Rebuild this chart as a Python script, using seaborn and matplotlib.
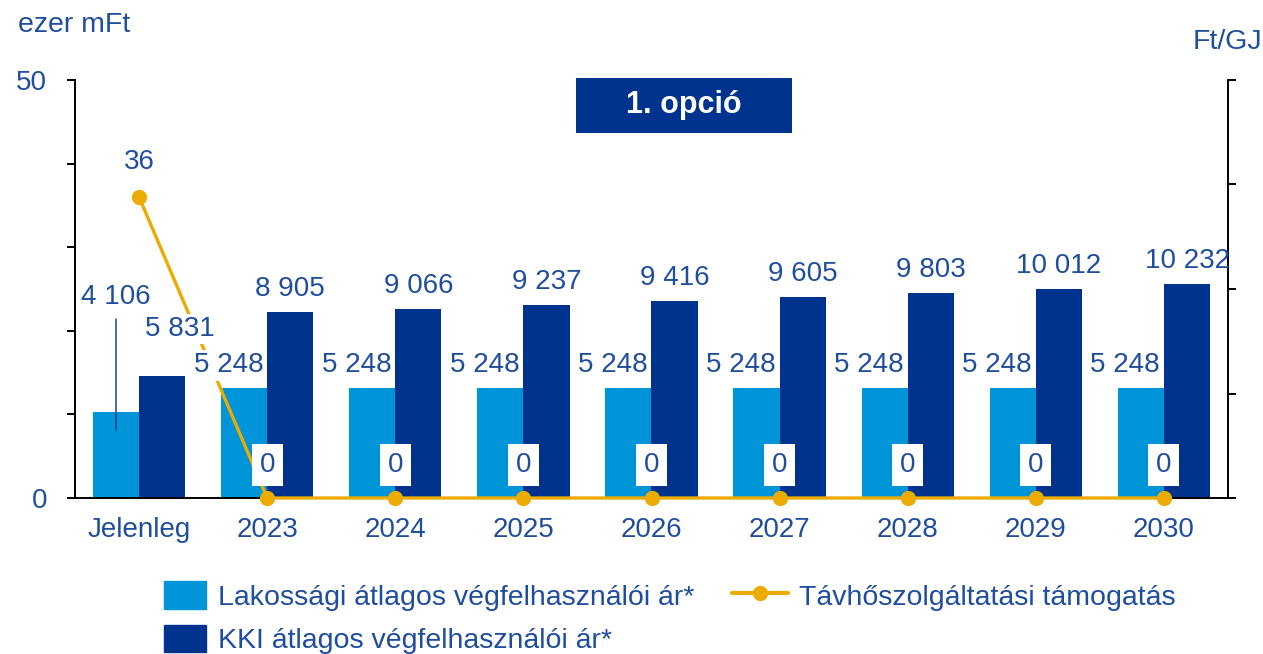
import numpy as np
import pandas as pd
import matplotlib
matplotlib.use('Agg')
import matplotlib.pyplot as plt
import seaborn as sns
from matplotlib.patches import Patch, Rectangle
from matplotlib.lines import Line2D

# ---- data ----
categories = ['Jelenleg', '2023', '2024', '2025', '2026', '2027', '2028', '2029', '2030']
lakossagi = [4106, 5248, 5248, 5248, 5248, 5248, 5248, 5248, 5248]
kki = [5831, 8905, 9066, 9237, 9416, 9605, 9803, 10012, 10232]
tamogatas = [36, 0, 0, 0, 0, 0, 0, 0, 0]
series_names = ['Lakossági átlagos végfelhasználói ár*',
                'KKI átlagos végfelhasználói ár*',
                'Távhőszolgáltatási támogatás']
title = '1. opció'
left_unit = 'ezer mFt'
right_unit = 'Ft/GJ'
left_ticks = [0, 10, 20, 30, 40, 50]
left_ticklabels = ['0', '', '', '', '', '50']
right_ticks = [0, 5000, 10000, 15000, 20000]

LIGHT = '#0094D9'
DARK = '#00338D'
ORANGE = '#EBAB00'
TXT = '#1F4E9E'

sns.set_theme(style='white')
plt.rcParams['font.family'] = ['Liberation Sans', 'DejaVu Sans']

W, H = 1263, 654
fig = plt.figure(figsize=(W / 100, H / 100), dpi=100)
ax = fig.add_axes([75 / W, 1 - 498 / H, (1228 - 75) / W, (498 - 80) / H])
ax2 = ax.twinx()

def pt(p):
    return p * 0.72

def fmt(v):
    return f'{v:,}'.replace(',', ' ')

df = pd.DataFrame({
    'cat': categories * 2,
    'val': lakossagi + kki,
    'series': [series_names[0]] * len(categories) + [series_names[1]] * len(categories),
})
sns.barplot(data=df, x='cat', y='val', hue='series', order=categories,
            hue_order=series_names[:2], palette=[LIGHT, DARK], width=0.72,
            saturation=1, errorbar=None, linewidth=0, ax=ax2, legend=False)

sns.lineplot(x=np.arange(len(categories)), y=tamogatas, ax=ax, color=ORANGE,
             marker='o', markersize=11, markeredgewidth=0, linewidth=2.4,
             legend=False, zorder=3, clip_on=False)

ax.set_zorder(ax2.get_zorder() + 1)
ax.patch.set_visible(False)

ax.set_ylim(0, 50)
ax2.set_ylim(0, 20000)
ax.set_xlim(-0.5, len(categories) - 0.5)
ax.set_yticks(left_ticks)
ax.set_yticklabels(left_ticklabels)
ax2.set_yticks(right_ticks)
ax2.set_yticklabels([])
ax.set_xticks(range(len(categories)))
ax.set_xticklabels(categories)
for a in (ax, ax2):
    a.set_xlabel('')
    a.set_ylabel('')

for s in ['top', 'right']:
    ax.spines[s].set_visible(False)
for s in ['top', 'left', 'bottom']:
    ax2.spines[s].set_visible(False)
for s in ['left', 'bottom']:
    ax.spines[s].set_color('black')
    ax.spines[s].set_linewidth(1.4)
    ax.spines[s].set_zorder(1)
ax2.spines['right'].set_color('black')
ax2.spines['right'].set_linewidth(1.4)

ax.tick_params(axis='y', left=True, direction='out', length=6, width=1.4,
               color='black', labelcolor=TXT, labelsize=20, pad=14)
ax2.tick_params(axis='y', right=True, direction='out', length=6, width=1.4,
                color='black')
ax.tick_params(axis='x', bottom=False, length=0, labelsize=20, labelcolor=TXT, pad=13.5)

lab = dict(color=TXT, fontsize=20, zorder=6)
white = dict(boxstyle='square,pad=0.08', fc='white', ec='none')

# dark bar labels
for i, v in enumerate(kki):
    if i == 0:
        ax.annotate(fmt(v), xy=(i + 0.18, v), xycoords=ax2.transData,
                    xytext=(pt(18), pt(47)), textcoords='offset points',
                    ha='center', va='center', bbox=white, **lab)
    else:
        ax.annotate(fmt(v), xy=(i + 0.18, v), xycoords=ax2.transData,
                    xytext=(0, pt(23)), textcoords='offset points',
                    ha='center', va='center', **lab)

# light bar labels
for i, v in enumerate(lakossagi):
    if i == 0:
        ax.annotate(fmt(v), xy=(i - 0.18, v * 0.79), xycoords=ax2.transData,
                    xytext=(0, pt(133)), textcoords='offset points',
                    ha='center', va='center', **lab,
                    arrowprops=dict(arrowstyle='-', color=DARK, lw=1,
                                    shrinkA=4, shrinkB=0))
    else:
        ax.annotate(fmt(v), xy=(i, v), xycoords=ax2.transData,
                    xytext=(pt(-4), pt(23)), textcoords='offset points',
                    ha='right', va='center', bbox=white, **lab)

# line labels
for i, v in enumerate(tamogatas):
    if v == 0:
        ax.annotate(fmt(v), xy=(i, v), xytext=(0, pt(33)), textcoords='offset points',
                    ha='center', va='center',
                    bbox=dict(boxstyle='square,pad=0.28', fc='white', ec='none'), **lab)
    else:
        ax.annotate(fmt(v), xy=(i, v), xytext=(0, pt(35)), textcoords='offset points',
                    ha='center', va='center', **lab)

# title box
fig.add_artist(Rectangle((576 / W, 1 - 133 / H), 216 / W, 55 / H,
                         transform=fig.transFigure, fc=DARK, ec='none'))
fig.text(684 / W, 1 - 105.5 / H, title, ha='center', va='center', color='white',
         fontsize=22, fontweight='bold')

fig.text(18 / W, 1 - 25 / H, left_unit, ha='left', va='center', color=TXT, fontsize=20.5)
fig.text(1262 / W, 1 - 42 / H, right_unit, ha='right', va='center', color=TXT, fontsize=20.5)

# legends
fs = 20.5
fpx = fs * 100 / 72
leg1 = fig.legend(handles=[Patch(color=LIGHT), Patch(color=DARK)], labels=series_names[:2],
                  loc='upper left', bbox_to_anchor=(164 / W, 1 - 581 / H), frameon=False,
                  fontsize=fs, handlelength=42 / fpx, handleheight=32 / fpx,
                  handletextpad=12 / fpx, labelspacing=(46 - 32) / fpx,
                  borderpad=0, borderaxespad=0, labelcolor=TXT)
leg2 = fig.legend(handles=[Line2D([], [], color=ORANGE, lw=3, marker='o', ms=11, mew=0)],
                  labels=[series_names[2]],
                  loc='upper left', bbox_to_anchor=(732 / W, 1 - 581 / H), frameon=False,
                  fontsize=fs, handlelength=56 / fpx, handleheight=32 / fpx,
                  handletextpad=11 / fpx, borderpad=0, borderaxespad=0, labelcolor=TXT)

fig.savefig('out.png', dpi=100)
